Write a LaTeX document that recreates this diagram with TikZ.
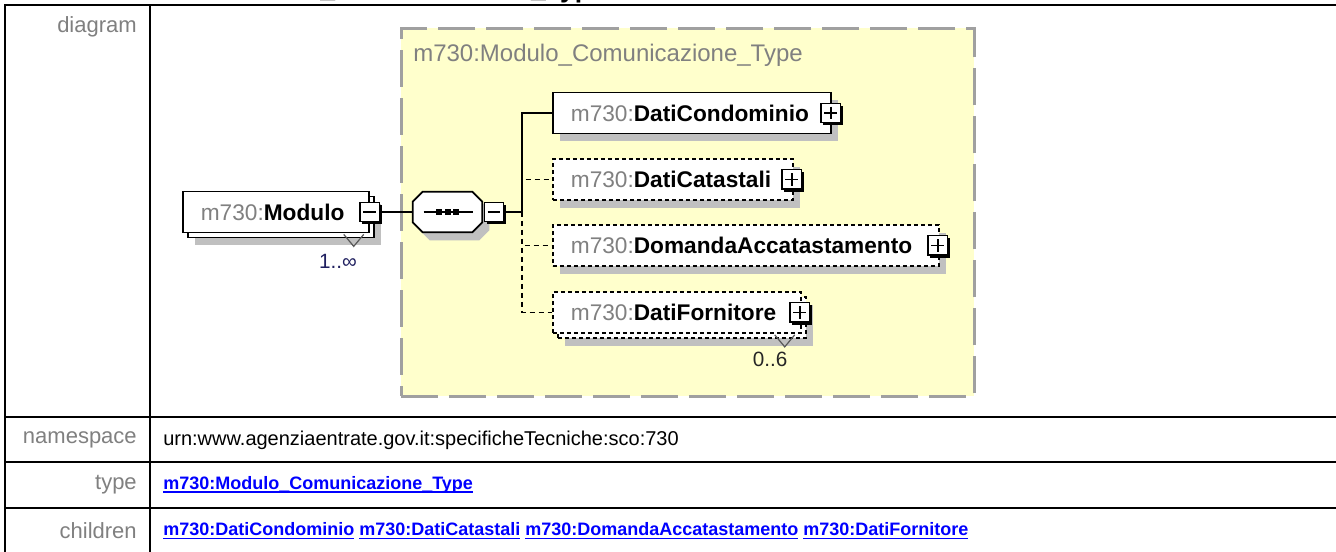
\documentclass[tikz,border=0pt]{standalone}
\usepackage{fontspec}
\setmainfont{Liberation Sans}
\usetikzlibrary{calc,shadows}
\definecolor{ybox}{HTML}{FFFFCC}
\definecolor{yborder}{HTML}{A0A0A0}
\definecolor{shgrey}{HTML}{C0C0C0}
\definecolor{pfx}{HTML}{808080}
\definecolor{lblgrey}{HTML}{808080}
\definecolor{lnkblue}{HTML}{0000FF}
\definecolor{occnavy}{HTML}{202060}
\newcommand\elname[1]{\mbox{\textcolor{pfx}{m730:}\textbf{#1}}}
\newsavebox\lkbox
\newcommand\lk[1]{\sbox\lkbox{#1}\makebox[0pt][l]{\rule[-2.4pt]{\wd\lkbox}{1.1pt}}\usebox\lkbox}
\begin{document}
\begin{tikzpicture}[x=0.75pt,y=-0.75pt,
  tline/.style={line width=1.5pt},
  lblnode/.style={anchor=east, inner sep=0, text=lblgrey, font=\fontsize{16.5}{19}\selectfont},
  valnode/.style={anchor=west, inner sep=0, font=\fontsize{15}{18}\selectfont},
  lnknode/.style={anchor=west, inner sep=0, text=lnkblue, font=\fontsize{13.5}{16}\selectfont\bfseries},
  elem/.style={draw=black, fill=white, line width=1.3pt, minimum height=30.75pt, inner xsep=13.5pt, inner ysep=0pt, anchor=west, align=left, font=\fontsize{17}{20}\selectfont},
  optelem/.style={elem, dash pattern=on 3pt off 2.25pt},
  withshadow/.style={drop shadow={shadow xshift=5.25pt, shadow yshift=-6pt, fill=shgrey, opacity=1}},
  pmbox/.style={draw=black, fill=white, line width=1pt, minimum size=14.5pt, inner sep=0, drop shadow={shadow xshift=1.8pt, shadow yshift=-1.8pt, fill=black, opacity=1}},
  pmminus/.style={pmbox, path picture={\draw[line width=1.2pt] ([xshift=2.5pt]path picture bounding box.west) -- ([xshift=-2.5pt]path picture bounding box.east);}},
  pmplus/.style={pmbox, path picture={\draw[line width=1.2pt] ([xshift=2.5pt]path picture bounding box.west) -- ([xshift=-2.5pt]path picture bounding box.east) ([yshift=-2.5pt]path picture bounding box.north) -- ([yshift=2.5pt]path picture bounding box.south);}},
  typebox/.style={draw=yborder, fill=ybox, line width=1.9pt, dash pattern=on 27.75pt off 8.25pt, anchor=north west, minimum width=429.75pt, minimum height=276pt, inner sep=0},
  conn/.style={line width=1.1pt},
  optline/.style={dash pattern=on 3.75pt off 3pt},
  vmark/.style={draw=black!65, line width=0.9pt},
  occlbl/.style={inner sep=0, font=\fontsize{15.5}{18}\selectfont}
]
\useasboundingbox (0,0) rectangle (1336,552);
\fill[white] (0,0) rectangle (1336,552);

% heading (cut off at the top)
\node[anchor=base west, inner sep=0, font=\fontsize{19.9}{22}\selectfont\bfseries] (head) at (149,-2.6) {m730:Modulo\_Comunicazione\_Type};

% table
\draw[tline] (5,552) -- (5,5) -- (1336,5);
\draw[tline] (150,5) -- (150,552);
\foreach \yy in {417,462,508} \draw[tline] (5,\yy) -- (1336,\yy);

\node[lblnode] (ldiag) at (137,27) {diagram};
\node[lblnode] (lns) at (137,440) {namespace};
\node[lblnode] (ltype) at (137,485) {type};
\node[lblnode] (lchild) at (137,531) {children};
\node[valnode] (vns) at (163,440) {urn:www.agenziaentrate.gov.it:specificheTecniche:sco:730};
\node[lnknode] (vtype) at (163,485) {\lk{m730:Modulo\_Comunicazione\_Type}};
\node[lnknode] (vchild) at (163,531) {\lk{m730:DatiCondominio} \lk{m730:DatiCatastali} \lk{m730:DomandaAccatastamento} \lk{m730:DatiFornitore}};

% type box
\node[typebox] (tbox) at (400,27) {};
\node[anchor=west, inner sep=0, text=pfx, font=\fontsize{18}{21}\selectfont] (ttitle) at (413,55) {m730:Modulo\_Comunicazione\_Type};

% Modulo element (stacked)
\node[elem, withshadow, text width=112.5pt] (modb) at (187,217) {};
\draw[vmark] ($(modb.south east)+(-31,-4)$) -- ($(modb.south east)+(-21,8)$) -- ($(modb.south east)+(-11,-4)$);
\node[elem, text width=112.5pt] (mod) at (182,212) {\elname{Modulo}};
\node[pmminus] (modm) at (mod.east) {};
\node[occlbl, text=occnavy] (modocc) at (338,261) {1..∞};

% sequence compositor
\node[inner sep=0, minimum width=51.75pt, minimum height=30pt] (seq) at (447.5,212) {};
\fill[shgrey] ($(seq.north west)+(17,8)$) -- ($(seq.north east)+(-3,8)$) -- ($(seq.north east)+(7,18)$) -- ($(seq.south east)+(7,-2)$) -- ($(seq.south east)+(-3,8)$) -- ($(seq.south west)+(17,8)$) -- ($(seq.south west)+(7,-2)$) -- ($(seq.north west)+(7,18)$) -- cycle;
\draw[fill=white, line width=1.3pt] ($(seq.north west)+(10,0)$) -- ($(seq.north east)+(-10,0)$) -- ($(seq.north east)+(0,10)$) -- ($(seq.south east)+(0,-10)$) -- ($(seq.south east)+(-10,0)$) -- ($(seq.south west)+(10,0)$) -- ($(seq.south west)+(0,-10)$) -- ($(seq.north west)+(0,10)$) -- cycle;
\draw[line width=1.1pt] ($(seq.center)+(-24,0)$) -- ($(seq.center)+(25,0)$);
\foreach \dx in {-8.5,0,8.5} \fill ($(seq.center)+(\dx-3,-3)$) rectangle ++(6,6);
\node[pmminus] (seqm) at (494,212) {};

% children
\node[elem, withshadow, text width=181.5pt] (cond) at (552,113) {\elname{DatiCondominio}};
\node[pmplus] (condp) at ($(cond.east)+(-1,0)$) {};
\node[optelem, withshadow, text width=153pt] (cat) at (552,179.5) {\elname{DatiCatastali}};
\node[pmplus] (catp) at ($(cat.east)+(-2,0)$) {};
\node[optelem, withshadow, text width=262.5pt] (dom) at (552,245.5) {\elname{DomandaAccatastamento}};
\node[pmplus] (domp) at ($(dom.east)+(-2,0)$) {};
\node[optelem, withshadow, text width=159pt] (fornb) at (557,317.5) {};
\draw[vmark] ($(fornb.south east)+(-32,-4)$) -- ($(fornb.south east)+(-22,8)$) -- ($(fornb.south east)+(-12,-4)$);
\node[optelem, text width=159pt] (forn) at (552,312.5) {\elname{DatiFornitore}};
\node[pmplus] (fornp) at ($(forn.east)+(-2,0)$) {};
\node[occlbl, text=black!85] (fornocc) at (770,359) {0..6};

% connectors
\coordinate (bus) at (522,212);
\draw[conn] (modm.east) -- (seq.west);
\draw[conn] (seqm.east) -- (bus);
\draw[conn] (bus) |- (cond.west);
\draw[conn, optline] (bus) |- (cat.west);
\draw[conn, optline] (bus) |- (dom.west);
\draw[conn, optline] (bus) |- (forn.west);
\end{tikzpicture}
\end{document}
